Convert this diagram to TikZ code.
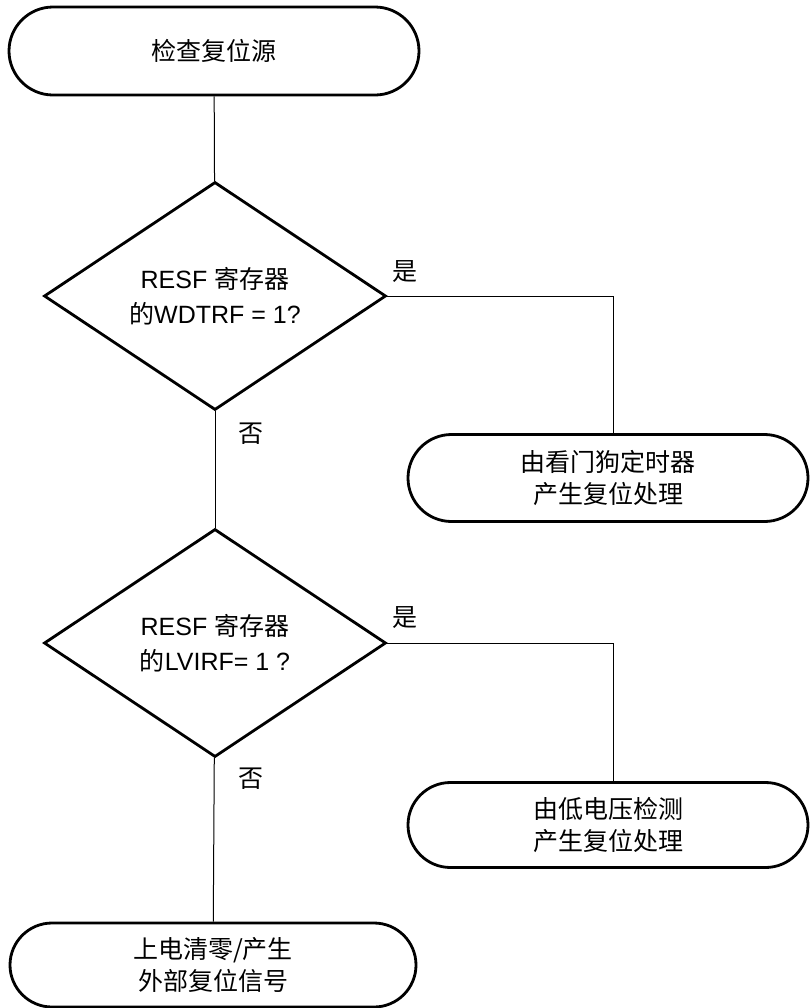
\documentclass[tikz,border=0pt]{standalone}
\usepackage{fontspec}
\setmainfont{Liberation Sans}
\newfontfamily\cjk{Noto Sans CJK SC}
\usetikzlibrary{shapes.geometric,shapes.misc}
\tikzset{
  terminal/.style={
    rounded rectangle,
    draw,
    line width=1.4pt,
    minimum width=205pt,
    minimum height=44pt,
    inner sep=0pt,
    align=center,
    font=\fontsize{12.5}{16}\selectfont\cjk
  },
  decision/.style={
    diamond,
    draw,
    line width=1.4pt,
    aspect=1.5,
    minimum width=171pt,
    minimum height=114pt,
    inner sep=0pt,
    align=center,
    font=\fontsize{12.5}{17.5}\selectfont
  },
  flow/.style={
    line width=0.5pt
  },
  answer/.style={
    font=\fontsize{12.5}{15}\selectfont\cjk,
    inner sep=0pt
  }
}
\begin{document}
\begin{tikzpicture}[x=0.5pt,y=-0.5pt]
    \useasboundingbox (0,0) rectangle (811,1008);
    % terminals and decisions
    \node[terminal] (start) at (214,51) {检查复位源};
    \node[decision] (dec1) at (215,296) {RESF {\cjk 寄存器}\\{\cjk 的}WDTRF = 1?};
    \node[terminal, minimum width=200pt, minimum height=43.5pt] (wdt) at (608,478) {由看门狗定时器\\产生复位处理};
    \node[decision] (dec2) at (215,643) {RESF {\cjk 寄存器}\\{\cjk 的}LVIRF= 1 ?};
    \node[terminal, minimum width=200pt, minimum height=42.5pt] (lvd) at (608,825) {由低电压检测\\产生复位处理};
    \node[terminal, minimum width=203pt, minimum height=42pt] (por) at (213,965) {上电清零/产生\\外部复位信号};

    % connectors
    \draw[flow] (start) -- (dec1);
    \draw[flow] (dec1.east) -| ([xshift=2.5pt]wdt.north);
    \draw[flow] (dec1) -- (dec2);
    \draw[flow] (dec2.east) -| ([xshift=2.5pt]lvd.north);
    \draw[flow] (dec2) -- (por);

    % branch labels
    \node[answer] (yes1) at (405,272) {是};
    \node[answer] (no1) at (251,434) {否};
    \node[answer] (yes2) at (405,618) {是};
    \node[answer] (no2) at (251,779) {否};
\end{tikzpicture}
\end{document}
